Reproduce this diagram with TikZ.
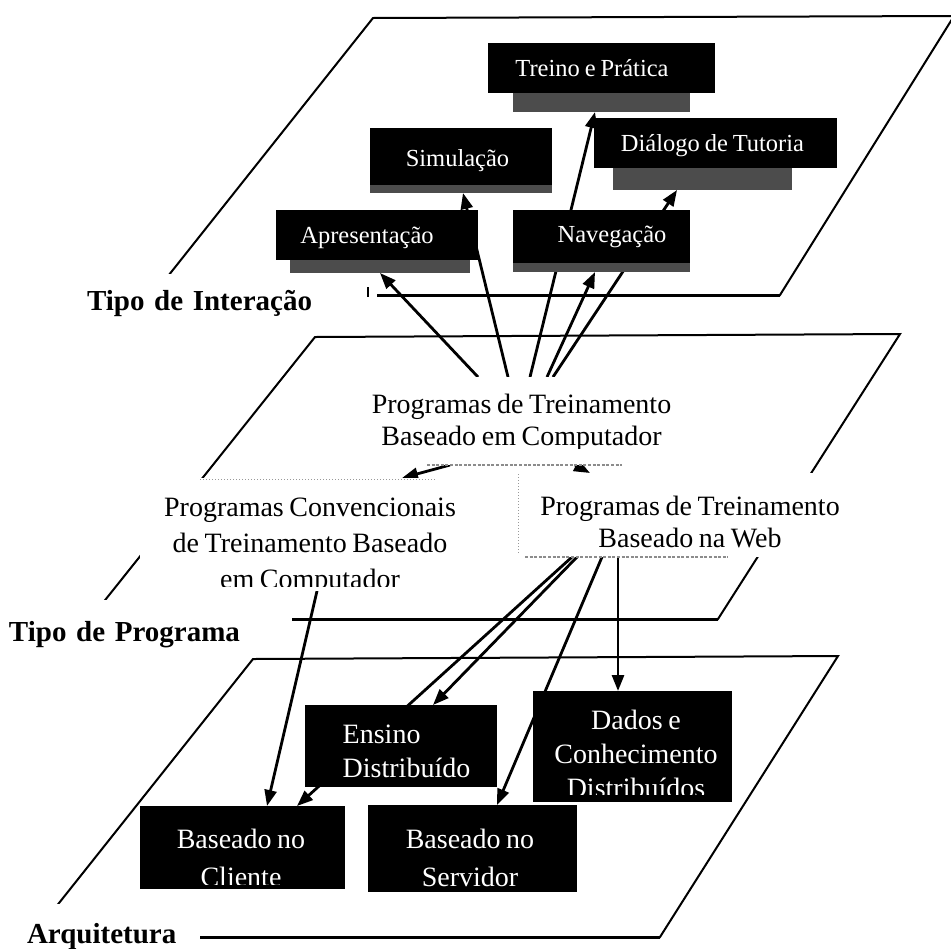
\documentclass[tikz,border=0pt]{standalone}
\usepackage{fontspec}
\setmainfont{Liberation Serif}[WordSpace=0.8]
\usetikzlibrary{arrows.meta,fit,calc}
\pgfdeclarelayer{planes}
\pgfdeclarelayer{links}
\pgfsetlayers{planes,links,main}

% #1 box name, #2 lower inner margin (px), #3 text style, #4 offset from the box centre (px), #5 text
\newcommand\boxlabel[5]{%
  \begin{scope}
    \clip ($(#1.south west)+(0,-#2)$) rectangle (#1.north east);
    \node[#3] (#1-t) at ($(#1.center)+(#4)$) {#5};
  \end{scope}}

\begin{document}
\begin{tikzpicture}[x=0.5pt,y=-0.5pt,
  plane/.style={line width=1pt, line join=miter},
  rim/.style={line width=1.5pt},
  link/.style={line width=1.4pt, -{Triangle[length=8pt,width=6pt]}},
  cell/.style={inner sep=0pt, outer sep=0pt, fill=black},
  ledge/.style={inner sep=0pt, outer sep=0pt, fill=black!70},
  note/.style={inner sep=0pt, outer sep=0pt, fill=white},
  faint/.style={black!45, line width=1.2pt, dash pattern=on 1.5pt off 0.8pt},
  hairline/.style={black!40, line width=0.5pt, densely dotted},
  layername/.style={fill=white, inner ysep=0pt, outer sep=0pt, align=left,
    anchor=base west, font=\fontsize{14.5}{17}\selectfont\bfseries},
  wsmall/.style={text=white, inner sep=0pt, anchor=center, font=\fontsize{12.25}{14}\selectfont},
  wlarge/.style={text=white, inner sep=0pt, anchor=center, align=center, font=\fontsize{14}{17}\selectfont},
  ktext/.style={inner sep=0pt, anchor=center, align=center, font=\fontsize{14}{16}\selectfont}
]
\useasboundingbox (0,0) rectangle (951,948);

% the three planes
\begin{pgfonlayer}{planes}
  \draw[plane] (373,18) -- (954,16) -- (780,295) -- (153,295) -- cycle;
  \draw[rim] (780,295) -- (153,295);
  \draw[plane] (315,337) -- (900,334) -- (718,619) -- (90,619) -- cycle;
  \draw[rim] (718,619) -- (90,619);
  \draw[plane] (253,659) -- (838,656) -- (660,937) -- (32,937) -- cycle;
  \draw[rim] (660,937) -- (32,937);
\end{pgfonlayer}

% interaction types
\node[ledge, fit={(513,93)(690,112)}] (treino-s) {};
\node[cell, fit={(488,43)(715,93)}] (treino) {};
\boxlabel{treino}{0}{wsmall}{-9.5,0.5}{Treino e Prática}
\node[ledge, fit={(370,185)(552,193)}] (simul-s) {};
\node[cell, fit={(370,128)(552,185)}] (simul) {};
\boxlabel{simul}{0}{wsmall}{-3.5,4.5}{Simulação}
\node[ledge, fit={(613,168)(792,190)}] (dialogo-s) {};
\node[cell, fit={(594,118)(837,168)}] (dialogo) {};
\boxlabel{dialogo}{0}{wsmall}{-3,3}{Diálogo de Tutoria}
\node[ledge, fit={(290,260)(470,273)}] (apres-s) {};
\node[cell, fit={(276,210)(478,260)}] (apres) {};
\boxlabel{apres}{0}{wsmall}{-10,2.5}{Apresentação}
\node[ledge, fit={(513,263)(690,272)}] (naveg-s) {};
\node[cell, fit={(513,210)(690,263)}] (naveg) {};
\boxlabel{naveg}{0}{wsmall}{10.5,0.5}{Navegação}

% program types
\node[note, fit={(365,377)(680,465)}] (ptbc) {};
\boxlabel{ptbc}{17}{ktext}{-1,1.7}{Programas de Treinamento\\Baseado em Computador}
\node[note, fit={(140,478)(462,591)}] (pctbc) {};
\boxlabel{pctbc}{5}{ktext,font=\fontsize{14}{18}\selectfont}{9,12}{Programas Convencionais\\de Treinamento Baseado\\em Computador}
\node[note, fit={(518,473)(850,557)}] (ptbw) {};
\boxlabel{ptbw}{0}{ktext}{6,6.8}{Programas de Treinamento\\Baseado na Web}

% architectures
\node[cell, fit={(305,705)(497,787)}] (ensino) {};
\boxlabel{ensino}{0}{wlarge,align=left}{5.5,5.8}{Ensino\\Distribuído}
\node[cell, fit={(533,691)(732,802)}] (dados) {};
\boxlabel{dados}{8}{wlarge}{3.5,7.3}{Dados e\\Conhecimento\\Distribuídos}
\node[cell, fit={(140,806)(345,889)}] (cliente) {};
\boxlabel{cliente}{5}{wlarge,font=\fontsize{14}{19}\selectfont}{-1.5,10.9}{Baseado no\\Cliente}
\node[cell, fit={(368,805)(577,892)}] (servidor) {};
\boxlabel{servidor}{3}{wlarge,font=\fontsize{14}{19}\selectfont}{-2.5,9.9}{Baseado no\\Servidor}

% faint box borders
\draw[faint] ($(ptbc.south)+(-95.5,0)$) -- ($(ptbc.south)+(99.5,0)$);
\draw[faint] ($(ptbw.south)+(-159,0)$) -- ($(ptbw.south)+(44,0)$);
\draw[hairline] ($(ptbw.north west)+(0,1)$) -- ($(ptbw.south west)+(0,-3)$);
\draw[hairline] ($(pctbc.north)+(-101,1)$) -- ($(pctbc.north)+(136,1)$);

% plane names
\node[layername, text width=141.5pt, inner xsep=3.5pt, text height=18pt, text depth=10pt]
  (interacao) at (80,310) {Tipo de Interação};
\draw[line width=1pt] (368,287) -- (368,297);
\node[layername, text width=139.5pt, inner xsep=2pt, text height=20.5pt, text depth=4.5pt]
  (programa) at (5,641) {Tipo de Programa};
\node[layername, text width=83pt, inner xsep=3.5pt, text height=19.5pt, text depth=5pt]
  (arquitetura) at (20,943) {Arquitetura};

% connectors
\begin{pgfonlayer}{links}
  \draw[link] ($(ptbc.north)+(-44.5,0)$) -- (apres-s.south);
  \draw[link] ($(ptbc.north)+(-14.5,0)$) -- ($(simul-s.south)+(2,0)$);
  \draw[link] ($(ptbc.north)+(7.5,0)$) -- ($(treino-s.south)+(-6.5,0)$);
  \draw[link] ($(ptbc.north)+(24.5,0)$) -- ($(naveg-s.south)+(-6.5,0)$);
  \draw[link] ($(ptbc.north)+(30.5,0)$) -- ($(dialogo-s.south)+(-25.5,0)$);

  \draw[link] ($(ptbc.south)+(-72.5,0)$) -- ($(pctbc.north)+(101,0)$);
  \draw[link] ($(ptbc.south)+(52.5,0)$) -- ($(ptbw.north)+(-94,0)$);

  \draw[link] ($(pctbc.south)+(16,0)$) -- ($(cliente.north)+(24.5,0)$);
  \draw[link] ($(ptbw.south)+(-112,0)$) -- ($(cliente.north)+(54.5,0)$);
  \draw[link] ($(ptbw.south)+(-107,0)$) -- ($(ensino.north)+(32,0)$);
  \draw[link] ($(ptbw.south)+(-82,0)$) -- ($(servidor.north)+(24.5,0)$);
  \draw[link] ($(ptbw.south)+(-66,0)$) -- ($(dados.north)+(-14.5,0)$);
\end{pgfonlayer}
\end{tikzpicture}
\end{document}
